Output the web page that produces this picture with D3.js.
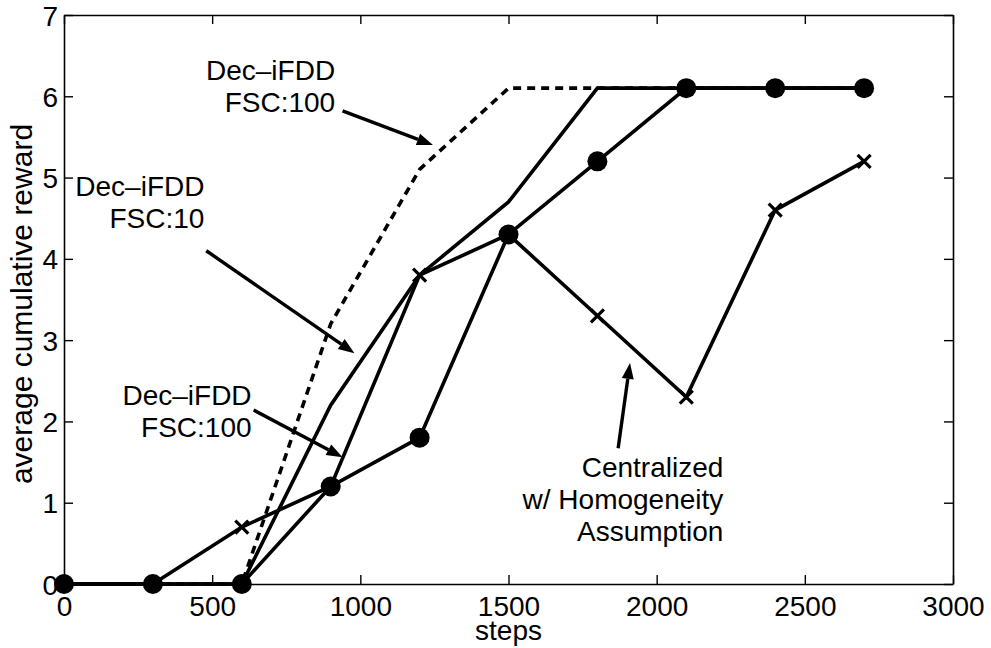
<!DOCTYPE html>
<html>
<head>
<meta charset="utf-8">
<script src="https://cdn.jsdelivr.net/npm/d3@7/dist/d3.min.js"></script>
<style>
  body { margin: 0; background: #fff; }
  text { font-family: "Liberation Sans", Arial, Helvetica, sans-serif; fill: #000; }
</style>
</head>
<body>
<div id="plots"></div>
<script>
// values
const STEPS = [0, 300, 600, 900, 1200, 1500, 1800, 2100, 2400, 2700];
const DASHED_FSC100 = [0, 0, 0, 3.2, 5.1, 6.1, 6.1, 6.1, 6.1, 6.1];
const SOLID_FSC10 = [0, 0, 0, 2.2, 3.8, 4.7, 6.1, 6.1, 6.1, 6.1];
const CIRCLE_SERIES = [0, 0, 0, 1.2, 1.8, 4.3, 5.2, 6.1, 6.1, 6.1];
const CROSS_SERIES = [0, 0, 0.7, 1.2, 3.8, 4.3, 3.3, 2.3, 4.6, 5.2];

const X_TICKS = [0, 500, 1000, 1500, 2000, 2500, 3000];
const Y_TICKS = [0, 1, 2, 3, 4, 5, 6, 7];

// annotation labels: text lines, anchor (in data units), arrow from/to (in data units)
const NOTES = [
  {lines: ["Dec\u2013iFDD", "FSC:100"], at: [915, 6.2], from: [940, 5.82], to: [1245, 5.4]},
  {lines: ["Dec\u2013iFDD", "FSC:10"],  at: [474, 4.77], from: [480, 4.1], to: [980, 2.84]},
  {lines: ["Dec\u2013iFDD", "FSC:100"], at: [633, 2.2], from: [640, 2.14], to: [940, 1.56]},
  {lines: ["Centralized", "w/ Homogeneity", "Assumption"], at: [2225, 1.32], from: [1870, 1.67], to: [1910, 2.72]}
];

const WIDTH = 991, HEIGHT = 648;
const MARGIN = {top: 15, right: 38, bottom: 64, left: 64};

const svg = d3.select("#plots")
  .append("svg")
    .attr("width", WIDTH)
    .attr("height", HEIGHT);

const x = d3.scaleLinear().domain([0, 3000]).range([MARGIN.left, WIDTH - MARGIN.right]);
const y = d3.scaleLinear().domain([0, 7]).range([HEIGHT - MARGIN.bottom, MARGIN.top]);

// axes box with inward ticks on all four sides (matlab look)
const TICK = 9;
svg.append("g")
  .attr("transform", `translate(0,${y(0)})`)
  .call(d3.axisBottom(x).tickValues(X_TICKS).tickFormat(d3.format("d")).tickSizeInner(-TICK).tickSizeOuter(0).tickPadding(12))
  .call(g => g.selectAll("text").attr("font-size", 28).attr("dy", "0.71em"));
svg.append("g")
  .attr("transform", `translate(0,${y(7)})`)
  .call(d3.axisTop(x).tickValues(X_TICKS).tickSizeInner(-TICK).tickSizeOuter(0).tickFormat(""));
svg.append("g")
  .attr("transform", `translate(${x(0)},0)`)
  .call(d3.axisLeft(y).tickValues(Y_TICKS).tickFormat(d3.format("d")).tickSizeInner(-TICK).tickSizeOuter(0).tickPadding(6))
  .call(g => g.selectAll("text").attr("font-size", 28).attr("dy", "0.36em"));
svg.append("g")
  .attr("transform", `translate(${x(3000)},0)`)
  .call(d3.axisRight(y).tickValues(Y_TICKS).tickSizeInner(-TICK).tickSizeOuter(0).tickFormat(""));

svg.selectAll(".domain").attr("stroke", "#000").attr("stroke-width", 1.6);
svg.selectAll(".tick line").attr("stroke", "#000").attr("stroke-width", 1.4);
svg.selectAll(".tick text").attr("fill", "#000").attr("font-family", "Liberation Sans, Arial, sans-serif");

// axis titles
svg.append("text")
  .attr("x", x(1500)).attr("y", 640)
  .attr("text-anchor", "middle")
  .attr("font-size", 28)
  .text("steps");
svg.append("text")
  .attr("transform", `translate(32,304) rotate(-90)`)
  .attr("text-anchor", "middle")
  .attr("font-size", 30)
  .text("average cumulative reward");

const line = d3.line()
  .x(d => x(d[0]))
  .y(d => y(d[1]));
const pts = vals => STEPS.map((s, i) => [s, vals[i]]);

const PLOT = svg.append("g").attr("fill", "none").attr("stroke", "#000").attr("stroke-linejoin", "miter");

PLOT.append("path").attr("d", line(pts(DASHED_FSC100))).attr("stroke-width", 3.6).attr("stroke-dasharray", "8,6");
PLOT.append("path").attr("d", line(pts(SOLID_FSC10))).attr("stroke-width", 3.6);
PLOT.append("path").attr("d", line(pts(CROSS_SERIES))).attr("stroke-width", 3.6);
PLOT.append("path").attr("d", line(pts(CIRCLE_SERIES))).attr("stroke-width", 3.6);

// x markers
const C = 6.5;
svg.append("g").selectAll("path")
  .data(pts(CROSS_SERIES))
  .join("path")
    .attr("d", d => `M${x(d[0]) - C},${y(d[1]) - C}L${x(d[0]) + C},${y(d[1]) + C}M${x(d[0]) - C},${y(d[1]) + C}L${x(d[0]) + C},${y(d[1]) - C}`)
    .attr("stroke", "#000")
    .attr("stroke-width", 3.2);

// filled circle markers
svg.append("g").selectAll("circle")
  .data(pts(CIRCLE_SERIES))
  .join("circle")
    .attr("cx", d => x(d[0]))
    .attr("cy", d => y(d[1]))
    .attr("r", 10)
    .attr("fill", "#000");

// annotations with arrows
const NOTE_G = svg.append("g");
NOTES.forEach(n => {
  const t = NOTE_G.append("text")
    .attr("x", x(n.at[0])).attr("y", y(n.at[1]))
    .attr("text-anchor", "end")
    .attr("font-size", 28);
  n.lines.forEach((l, i) => t.append("tspan").attr("x", x(n.at[0])).attr("dy", i ? 32 : 0).text(l));

  const x0 = x(n.from[0]), y0 = y(n.from[1]), x1 = x(n.to[0]), y1 = y(n.to[1]);
  const a = Math.atan2(y1 - y0, x1 - x0), L = 16, W = 6;
  const bx = x1 - L * Math.cos(a), by = y1 - L * Math.sin(a);
  NOTE_G.append("line")
    .attr("x1", x0).attr("y1", y0).attr("x2", bx).attr("y2", by)
    .attr("stroke", "#000").attr("stroke-width", 3.4);
  NOTE_G.append("path")
    .attr("d", `M${x1},${y1}L${bx - W * Math.sin(a)},${by + W * Math.cos(a)}L${bx + W * Math.sin(a)},${by - W * Math.cos(a)}Z`)
    .attr("fill", "#000");
});
</script>
</body>
</html>
